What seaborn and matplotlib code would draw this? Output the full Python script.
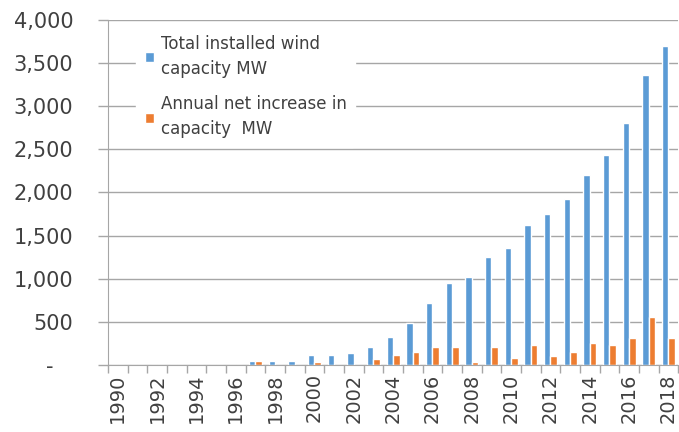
import numpy as np
import pandas as pd
from matplotlib import pyplot as plt
import seaborn as sns

years = list(range(1990, 2019))
total_mw = [0, 0, 0, 0, 0, 0, 0, 50, 50, 50, 118, 118, 138, 204, 330,
            491, 723, 955, 1025, 1257, 1362, 1621, 1749, 1919, 2197,
            2434, 2800, 3360, 3703]
increase_mw = [0, 0, 0, 0, 0, 0, 0, 50, 0, 0, 31, 0, 0, 71, 112,
               147, 213, 213, 39, 213, 85, 232, 104, 147, 252,
               232, 317, 557, 317]
series_names = ['Total installed wind\ncapacity MW',
                'Annual net increase in\ncapacity  MW']
yticks = [0, 500, 1000, 1500, 2000, 2500, 3000, 3500, 4000]
ytick_labels = ['-   ', '500', '1,000', '1,500', '2,000', '2,500', '3,000', '3,500', '4,000']

df = pd.DataFrame({'Year': [str(y) for y in years] * 2,
                   'MW': total_mw + increase_mw,
                   'Series': [series_names[0]] * len(years) + [series_names[1]] * len(years)})

sns.set_style('white')
plt.rcParams['font.family'] = ['DejaVu Sans']
grey = '#a6a6a6'
text_col = '#404040'

fig = plt.figure(figsize=(6.79, 4.32), dpi=100)
ax = fig.add_axes([0.159, 0.155, 0.84, 0.799])

sns.barplot(data=df, x='Year', y='MW', hue='Series', palette=['#5b9bd5', '#ed7d31'],
            width=0.65, saturation=1, ax=ax)

ax.set_xlim(-0.5, len(years) - 0.5)
ax.set_ylim(0, 4000)
ax.set_xlabel('')
ax.set_ylabel('')

ax.set_yticks(yticks)
ax.set_yticklabels(ytick_labels, fontsize=15, color=text_col)
ax.yaxis.grid(True, color=grey, lw=1)
ax.set_axisbelow(True)
ax.tick_params(axis='y', left=True, length=7, width=1, color=grey, pad=18)

ax.set_xticks(range(0, len(years), 2))
ax.set_xticklabels([str(y) for y in years[::2]], rotation=90, fontsize=14, color=text_col)
ax.set_xticks(np.arange(-0.5, len(years), 1), minor=True)
ax.tick_params(axis='x', which='major', bottom=True, length=0, pad=6)
ax.tick_params(axis='x', which='minor', bottom=True, length=6, width=1, color=grey)

sns.despine(ax=ax, top=True, right=True)
ax.spines['left'].set_color(grey)
ax.spines['bottom'].set_color(grey)

leg = ax.legend(loc='upper left', bbox_to_anchor=(0.035, 1.005), frameon=True,
                fontsize=12, handlelength=0.55, handleheight=0.55, handletextpad=0.45,
                labelspacing=1.05, borderpad=0.5)
leg.get_frame().set_edgecolor('white')
leg.get_frame().set_facecolor('white')
leg.get_frame().set_alpha(1)
for t in leg.get_texts():
    t.set_color(text_col)
    t.set_linespacing(1.5)

fig.savefig('out.png', dpi=100)
